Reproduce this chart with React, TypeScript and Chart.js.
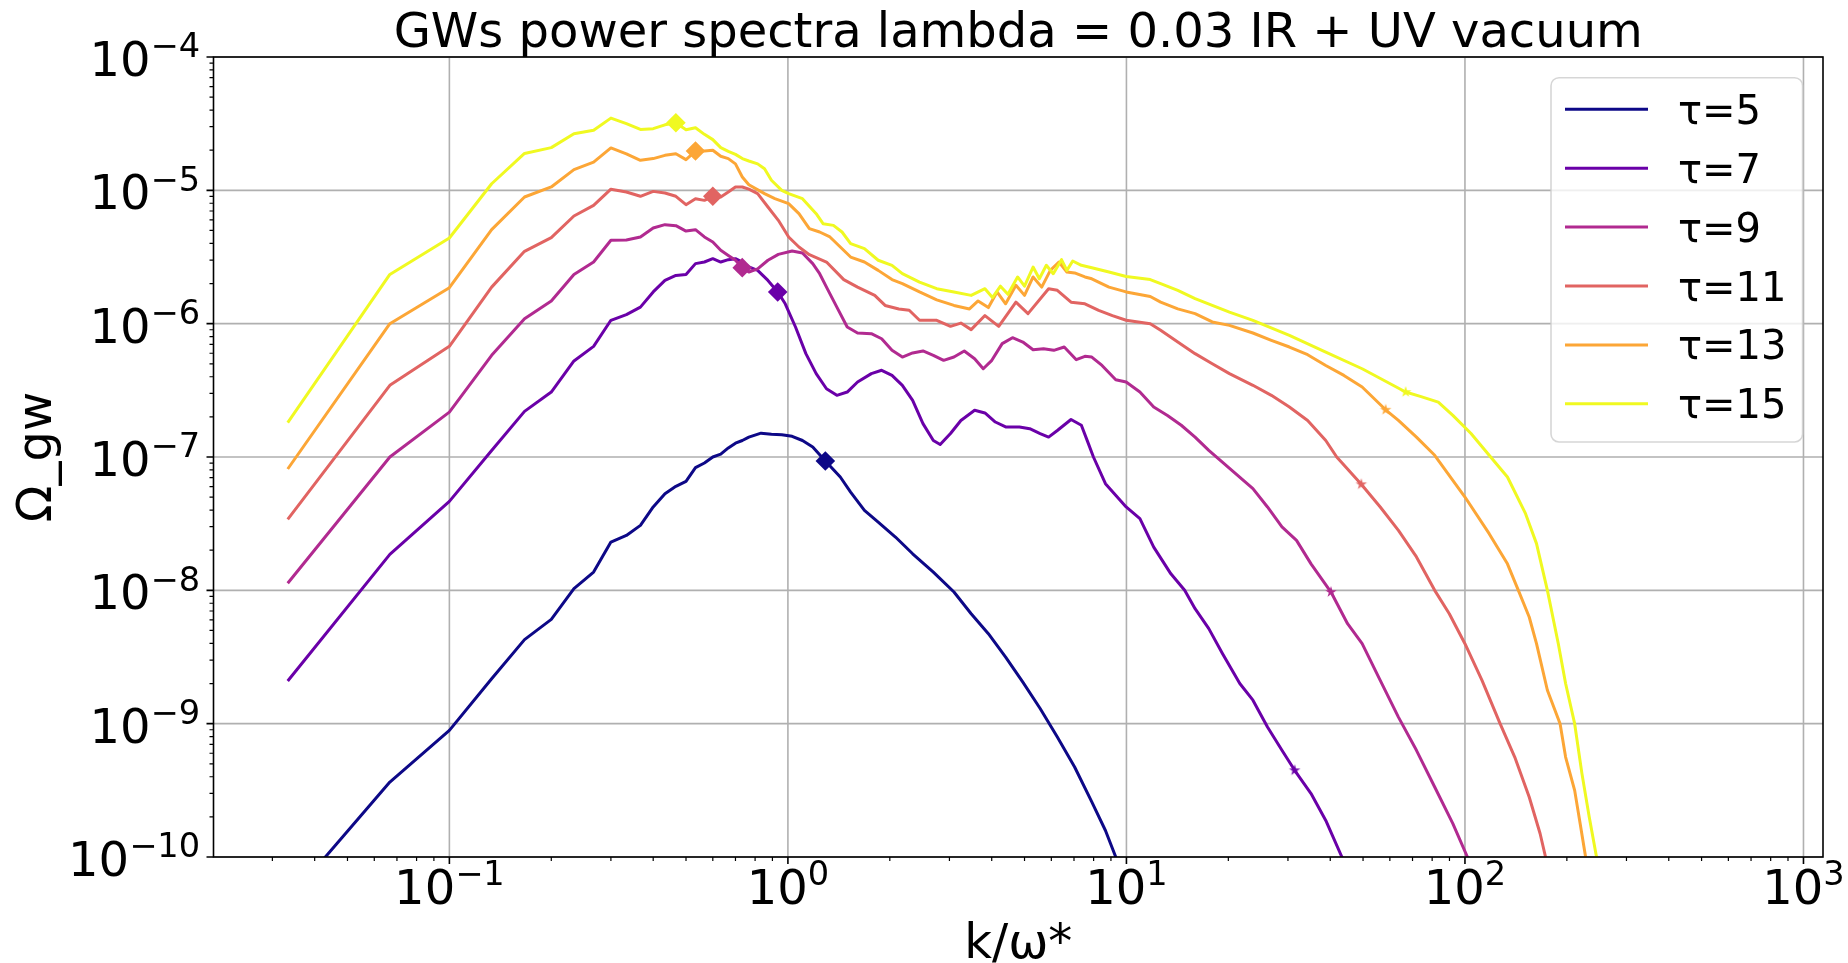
import React, { useEffect, useRef } from 'react';
import { Chart, registerables } from 'chart.js';

Chart.register(...registerables);

// ---------------- text ----------------
const TITLE = 'GWs power spectra lambda = 0.03 IR + UV vacuum';
const X_TITLE = 'k/ω*';
const Y_TITLE = 'Ω_gw';

// ---------------- series meta ----------------
const TAUS = [5, 7, 9, 11, 13, 15];
const COLORS = ['#0d0887', '#6a00a8', '#b12a90', '#e16462', '#fca636', '#f0f921'];

// ---------------- axes ----------------
const X_MIN = 0.0201;
const X_MAX = 1142;
const Y_MIN = 1e-10;
const Y_MAX = 1e-4;
const X_TICK_EXPONENTS = [-1, 0, 1, 2, 3];
const Y_TICK_EXPONENTS = [-10, -9, -8, -7, -6, -5, -4];

// ---------------- data ----------------
const k5 = [0.0333, 0.0667, 0.1, 0.1333, 0.1667, 0.2, 0.2333, 0.2667, 0.3, 0.3333, 0.3667, 0.4, 0.4333, 0.4667, 0.5, 0.5333, 0.5667, 0.6, 0.6333, 0.6667, 0.7, 0.7333, 0.7667,
  0.833, 0.894, 0.959, 1.029, 1.104, 1.184, 1.29, 1.428, 1.532, 1.683, 1.848, 2.078, 2.336, 2.689, 3.094, 3.478, 3.91, 4.397, 4.943, 5.56, 6.25, 7.03, 7.9, 8.67, 9.3, 10];
const omega5 = [4.7e-11, 3.65e-10, 8.91e-10, 2.17e-9, 4.27e-9, 6.06e-9, 1.03e-8, 1.37e-8, 2.30e-8, 2.58e-8, 3.07e-8, 4.22e-8, 5.31e-8, 6.03e-8, 6.57e-8, 8.32e-8, 9.02e-8, 1.0e-7, 1.05e-7, 1.17e-7, 1.27e-7, 1.33e-7, 1.41e-7,
  1.51e-7, 1.48e-7, 1.47e-7, 1.43e-7, 1.33e-7, 1.19e-7, 9.33e-8, 7.08e-8, 5.46e-8, 3.98e-8, 3.25e-8, 2.51e-8, 1.88e-8, 1.37e-8, 9.71e-9, 6.68e-9, 4.73e-9, 3.16e-9, 2.05e-9, 1.30e-9, 7.94e-10, 4.73e-10, 2.59e-10, 1.58e-10, 1.0e-10, 6.3e-11];

const k7 = [0.0333, 0.0667, 0.1, 0.1333, 0.1667, 0.2, 0.2333, 0.2667, 0.3, 0.3333, 0.3667, 0.4, 0.4333, 0.4667, 0.5, 0.5333, 0.5667, 0.6, 0.6333, 0.6667, 0.7, 0.7333, 0.7667,
  0.814, 0.873, 0.933, 0.982, 1.053, 1.13, 1.212, 1.3, 1.395, 1.497, 1.606, 1.764, 1.892, 2.03, 2.178, 2.336, 2.506, 2.689, 2.817, 3.022,
  3.243, 3.561, 3.82, 4.1, 4.397, 4.83, 5.18, 5.56, 5.89, 6.25, 6.86, 7.36, 7.72, 7.99, 8.67, 9.98, 10.96, 12.04, 13.53, 14.86,
  15.95, 17.51, 19.23, 21.62, 23.64, 26.1, 28.8, 31.4, 35.1, 38.8, 43.3, 50];
const omega7 = [2.09e-9, 1.86e-8, 4.65e-8, 1.12e-7, 2.20e-7, 3.07e-7, 5.25e-7, 6.76e-7, 1.06e-6, 1.17e-6, 1.33e-6, 1.73e-6, 2.11e-6, 2.30e-6, 2.34e-6, 2.82e-6, 2.90e-6, 3.07e-6, 2.90e-6, 3.02e-6, 3.07e-6, 2.90e-6, 2.66e-6,
  2.51e-6, 2.11e-6, 1.73e-6, 1.41e-6, 9.44e-7, 5.96e-7, 4.22e-7, 3.25e-7, 2.90e-7, 3.07e-7, 3.65e-7, 4.22e-7, 4.47e-7, 4.09e-7, 3.45e-7, 2.66e-7, 1.78e-7, 1.33e-7, 1.24e-7, 1.50e-7,
  1.88e-7, 2.24e-7, 2.14e-7, 1.83e-7, 1.68e-7, 1.68e-7, 1.63e-7, 1.50e-7, 1.41e-7, 1.58e-7, 1.91e-7, 1.73e-7, 1.26e-7, 1.0e-7, 6.31e-8, 4.22e-8, 3.45e-8, 2.11e-8, 1.33e-8, 1.0e-8,
  7.28e-9, 5.16e-9, 3.35e-9, 2.0e-9, 1.50e-9, 9.44e-10, 6.31e-10, 4.47e-10, 2.99e-10, 1.88e-10, 1.0e-10, 6.3e-11];

const k9 = [0.0333, 0.0667, 0.1, 0.1333, 0.1667, 0.2, 0.2333, 0.2667, 0.3, 0.3333, 0.3667, 0.4, 0.4333, 0.4667, 0.5, 0.5333, 0.5667, 0.6, 0.6333, 0.6667, 0.7, 0.7333, 0.7667,
  0.814, 0.873, 0.937, 1.029, 1.104, 1.184, 1.241, 1.3, 1.395, 1.497, 1.606, 1.764, 1.892, 2.03, 2.178, 2.336, 2.506, 2.689, 2.884, 3.094,
  3.319, 3.561, 3.776, 4.003, 4.295, 4.607, 4.943, 5.3, 5.69, 6.1, 6.55, 7.11, 7.54, 7.9, 8.47, 9.3, 9.98, 10.96, 12.04, 13.22,
  14.52, 15.95, 17.51, 23.64, 26.1, 28.8, 31.8, 35.1, 40.2, 45, 49.7, 56.2, 63.6, 71.9, 81.4, 92.1, 101.7, 115];
const omega9 = [1.13e-8, 1.0e-7, 2.17e-7, 5.79e-7, 1.09e-6, 1.48e-6, 2.34e-6, 2.90e-6, 4.22e-6, 4.24e-6, 4.47e-6, 5.22e-6, 5.53e-6, 5.43e-6, 4.95e-6, 5.07e-6, 4.47e-6, 4.10e-6, 3.55e-6, 3.25e-6, 2.99e-6, 2.63e-6, 2.44e-6,
  2.58e-6, 2.99e-6, 3.31e-6, 3.51e-6, 3.39e-6, 2.82e-6, 2.37e-6, 1.88e-6, 1.33e-6, 9.44e-7, 8.51e-7, 8.41e-7, 7.71e-7, 6.31e-7, 5.62e-7, 6.03e-7, 6.24e-7, 5.79e-7, 5.31e-7, 5.62e-7,
  6.24e-7, 5.46e-7, 4.59e-7, 5.31e-7, 7.08e-7, 7.85e-7, 7.28e-7, 6.38e-7, 6.49e-7, 6.31e-7, 6.68e-7, 5.37e-7, 5.69e-7, 5.62e-7, 4.86e-7, 3.80e-7, 3.65e-7, 3.07e-7, 2.37e-7, 2.05e-7,
  1.73e-7, 1.41e-7, 1.12e-7, 5.79e-8, 4.22e-8, 2.99e-8, 2.37e-8, 1.58e-8, 9.71e-9, 5.62e-9, 3.98e-9, 2.11e-9, 1.12e-9, 6.31e-10, 3.35e-10, 1.78e-10, 1.0e-10, 4.5e-11];

const k11 = [0.0333, 0.0667, 0.1, 0.1333, 0.1667, 0.2, 0.2333, 0.2667, 0.3, 0.3333, 0.3667, 0.4, 0.4333, 0.4667, 0.5, 0.5333, 0.5667, 0.6, 0.6333, 0.6667, 0.7, 0.7333, 0.7667,
  0.814, 0.873, 0.937, 1.005, 1.078, 1.157, 1.3, 1.462, 1.606, 1.805, 1.937, 2.127, 2.282, 2.448, 2.752, 3.022, 3.243, 3.478, 3.82, 4.195,
  4.716, 5.12, 5.89, 6.25, 6.86, 7.54, 8.28, 9.09, 9.98, 11.76, 12.62, 14.18, 15.95, 17.93, 20.15, 23.64, 26.8, 30.3, 34.3, 38.8,
  41.8, 49.4, 56.2, 63.6, 71.9, 81.4, 89.9, 100, 112.3, 127, 140.3, 154.8, 166.7, 173, 185];
const omega11 = [3.41e-8, 3.45e-7, 6.76e-7, 1.88e-6, 3.49e-6, 4.42e-6, 6.42e-6, 7.71e-6, 1.02e-5, 9.71e-6, 9.02e-6, 9.82e-6, 9.55e-6, 9.02e-6, 7.80e-6, 8.66e-6, 8.41e-6, 9.02e-6, 8.91e-6, 9.71e-6, 1.06e-5, 1.06e-5, 1.02e-5,
  9.44e-6, 7.50e-6, 5.96e-6, 4.47e-6, 3.76e-6, 3.29e-6, 2.90e-6, 2.14e-6, 1.88e-6, 1.63e-6, 1.37e-6, 1.29e-6, 1.26e-6, 1.06e-6, 1.06e-6, 9.55e-7, 1.01e-6, 9.02e-7, 1.15e-6, 9.55e-7,
  1.45e-6, 1.19e-6, 1.83e-6, 1.78e-6, 1.45e-6, 1.41e-6, 1.26e-6, 1.15e-6, 1.06e-6, 1.0e-6, 8.91e-7, 7.28e-7, 5.96e-7, 5.01e-7, 4.22e-7, 3.45e-7, 2.90e-7, 2.37e-7, 1.88e-7, 1.33e-7,
  1.0e-7, 6.24e-8, 4.22e-8, 2.82e-8, 1.78e-8, 1.0e-8, 6.68e-9, 3.98e-9, 2.11e-9, 1.0e-9, 5.62e-10, 2.82e-10, 1.50e-10, 1.0e-10, 4.0e-11];

const k13 = [0.0333, 0.0667, 0.1, 0.1333, 0.1667, 0.2, 0.2333, 0.2667, 0.3, 0.3333, 0.3667, 0.4, 0.4333, 0.4667, 0.5, 0.5333, 0.5667, 0.6, 0.6333, 0.6667, 0.7, 0.7333, 0.7667,
  0.853, 0.915, 1.005, 1.078, 1.157, 1.241, 1.331, 1.428, 1.532, 1.683, 1.848, 2.03, 2.178, 2.448, 2.752, 3.094, 3.438,
  3.646, 3.91, 4.147, 4.397, 4.716, 5.0, 5.3, 5.62, 5.96, 6.32, 6.67, 7.03, 7.54, 7.9, 8.88, 9.98, 11.76, 12.62, 14.18, 15.95, 17.93, 20.15, 23.64,
  26.8, 30.3, 34.3, 38.8, 43.9, 49.7, 58.3, 63.6, 71.9, 81.4, 100, 117.9, 133.5, 143.8, 154.8, 162.7, 175.2, 191, 198.3, 210.9, 218.9, 227.2, 245];
const omega13 = [8.13e-8, 1.0e-6, 1.86e-6, 5.07e-6, 8.91e-6, 1.06e-5, 1.43e-5, 1.63e-5, 2.08e-5, 1.88e-5, 1.68e-5, 1.73e-5, 1.83e-5, 1.88e-5, 1.70e-5, 1.97e-5, 1.97e-5, 2.0e-5, 1.80e-5, 1.73e-5, 1.58e-5, 1.26e-5, 1.10e-5,
  9.44e-6, 8.66e-6, 7.94e-6, 6.68e-6, 5.16e-6, 4.87e-6, 4.47e-6, 3.76e-6, 3.16e-6, 2.90e-6, 2.51e-6, 2.14e-6, 2.0e-6, 1.73e-6, 1.51e-6, 1.37e-6, 1.29e-6,
  1.48e-6, 1.32e-6, 1.73e-6, 1.41e-6, 1.94e-6, 1.63e-6, 2.24e-6, 1.88e-6, 2.51e-6, 2.90e-6, 2.44e-6, 2.40e-6, 2.24e-6, 2.17e-6, 1.88e-6, 1.73e-6, 1.60e-6, 1.45e-6, 1.29e-6, 1.19e-6, 1.03e-6, 9.71e-7, 8.51e-7,
  7.50e-7, 6.68e-7, 5.85e-7, 4.86e-7, 4.09e-7, 3.35e-7, 2.26e-7, 1.88e-7, 1.41e-7, 1.03e-7, 5.01e-8, 2.66e-8, 1.58e-8, 1.0e-8, 6.31e-9, 3.98e-9, 1.78e-9, 1.0e-9, 5.62e-10, 3.16e-10, 1.78e-10, 1.0e-10, 2.5e-11];

const k15 = [0.0333, 0.0667, 0.1, 0.1333, 0.1667, 0.2, 0.2333, 0.2667, 0.3, 0.3333, 0.3667, 0.4, 0.4333, 0.4667, 0.5, 0.5333, 0.5667, 0.6, 0.6333, 0.6667, 0.7, 0.7333, 0.7667,
  0.814, 0.853, 0.894, 0.959, 1.005, 1.104, 1.212, 1.27, 1.363, 1.445, 1.532, 1.683, 1.848, 2.03, 2.178, 2.448, 2.752, 3.094, 3.478,
  3.82, 4.02, 4.245, 4.467, 4.77, 5.0, 5.3, 5.53, 5.8, 6.08, 6.43, 6.67, 6.94,
  7.36, 7.9, 8.88, 9.98, 11.76, 12.62, 14.18, 15.95, 17.93, 20.15, 23.64,
  30.3, 38.8, 49.7, 66.8, 73.8, 83.4, 92.1, 104.2, 117.9,
  133.5, 151, 162.7, 175.2, 188.7, 198.3, 210.9, 221.6, 232.8, 244.7, 265];
const omega15 = [1.81e-7, 2.34e-6, 4.39e-6, 1.12e-5, 1.89e-5, 2.09e-5, 2.66e-5, 2.82e-5, 3.48e-5, 3.16e-5, 2.86e-5, 2.90e-5, 3.10e-5, 3.21e-5, 2.85e-5, 2.95e-5, 2.63e-5, 2.40e-5, 2.09e-5, 1.96e-5, 1.86e-5, 1.73e-5, 1.66e-5,
  1.58e-5, 1.45e-5, 1.19e-5, 1.0e-5, 9.44e-6, 8.66e-6, 6.68e-6, 5.62e-6, 5.46e-6, 4.87e-6, 3.98e-6, 3.65e-6, 2.99e-6, 2.74e-6, 2.37e-6, 2.05e-6, 1.83e-6, 1.73e-6, 1.63e-6,
  1.83e-6, 1.57e-6, 1.91e-6, 1.66e-6, 2.24e-6, 1.91e-6, 2.66e-6, 2.17e-6, 2.74e-6, 2.37e-6, 3.02e-6, 2.51e-6, 2.95e-6,
  2.74e-6, 2.63e-6, 2.44e-6, 2.26e-6, 2.14e-6, 2.0e-6, 1.78e-6, 1.54e-6, 1.37e-6, 1.22e-6, 1.06e-6,
  8.17e-7, 6.12e-7, 4.59e-7, 3.07e-7, 2.85e-7, 2.58e-7, 2.05e-7, 1.50e-7, 1.03e-7,
  7.08e-8, 3.76e-8, 2.24e-8, 1.0e-8, 3.98e-9, 2.0e-9, 1.0e-9, 4.22e-10, 2.0e-10, 1.0e-10, 2.0e-11];

// marker positions (diamond per series, star per series except τ=5)
const DIAMOND_K = [1.29, 0.933, 0.733, 0.6, 0.5333, 0.4667];
const DIAMOND_OMEGA = [9.33e-8, 1.73e-6, 2.63e-6, 9.02e-6, 1.97e-5, 3.21e-5];
const STAR_TAUS = [7, 9, 11, 13, 15];
const STAR_K = [31.4, 40.2, 49.4, 58.3, 66.8];
const STAR_OMEGA = [4.47e-10, 9.71e-9, 6.24e-8, 2.26e-7, 3.07e-7];

const SERIES_K = [k5, k7, k9, k11, k13, k15];
const SERIES_OMEGA = [omega5, omega7, omega9, omega11, omega13, omega15];

// ---------------- drawing helpers ----------------
const FONT = '"DejaVu Sans", "Noto Sans", sans-serif';

function makeStar(color: string, r: number): HTMLCanvasElement {
  const size = Math.ceil(r * 2 + 2);
  const c = document.createElement('canvas');
  c.width = size;
  c.height = size;
  const g = c.getContext('2d') as CanvasRenderingContext2D;
  g.translate(size / 2, size / 2);
  g.beginPath();
  for (let i = 0; i < 10; i++) {
    const rr = i % 2 === 0 ? r : r * 0.382;
    const ang = -Math.PI / 2 + (i * Math.PI) / 5;
    if (i === 0) g.moveTo(rr * Math.cos(ang), rr * Math.sin(ang));
    else g.lineTo(rr * Math.cos(ang), rr * Math.sin(ang));
  }
  g.closePath();
  g.fillStyle = color;
  g.fill();
  return c;
}

function powLabel(ctx: CanvasRenderingContext2D, exp: number, x: number, baseline: number, align: 'right' | 'center') {
  const base = '10';
  const sup = exp < 0 ? '\u2212' + String(-exp) : String(exp);
  ctx.font = `48px ${FONT}`;
  const wb = ctx.measureText(base).width;
  ctx.font = `33.6px ${FONT}`;
  const ws = ctx.measureText(sup).width;
  const total = wb + ws;
  const left = align === 'right' ? x - total : x - total / 2;
  ctx.textAlign = 'left';
  ctx.textBaseline = 'alphabetic';
  ctx.font = `48px ${FONT}`;
  ctx.fillText(base, left, baseline);
  ctx.font = `33.6px ${FONT}`;
  ctx.fillText(sup, left + wb, baseline - 18.7);
}

function minorValues(min: number, max: number): number[] {
  const out: number[] = [];
  for (let e = Math.floor(Math.log10(min)); e <= Math.ceil(Math.log10(max)); e++) {
    for (let m = 2; m <= 9; m++) {
      const v = m * Math.pow(10, e);
      if (v >= min && v <= max) out.push(v);
    }
  }
  return out;
}

const decorPlugin = {
  id: 'mplDecor',
  beforeDatasetsDraw(chart: any) {
    const { ctx, chartArea: a } = chart;
    const xs = chart.scales.x;
    const ys = chart.scales.y;
    ctx.save();
    ctx.strokeStyle = '#b0b0b0';
    ctx.lineWidth = 1.6;
    ctx.beginPath();
    X_TICK_EXPONENTS.forEach((e) => {
      const x = xs.getPixelForValue(Math.pow(10, e));
      if (x >= a.left - 1 && x <= a.right + 1) {
        ctx.moveTo(x, a.top);
        ctx.lineTo(x, a.bottom);
      }
    });
    Y_TICK_EXPONENTS.forEach((e) => {
      const y = ys.getPixelForValue(Math.pow(10, e));
      ctx.moveTo(a.left, y);
      ctx.lineTo(a.right, y);
    });
    ctx.stroke();
    ctx.restore();
  },
  afterDatasetsDraw(chart: any) {
    const { ctx, chartArea: a } = chart;
    const xs = chart.scales.x;
    const ys = chart.scales.y;
    ctx.save();

    // spines
    ctx.strokeStyle = '#000';
    ctx.lineWidth = 1.6;
    ctx.strokeRect(a.left, a.top, a.right - a.left, a.bottom - a.top);

    // ticks
    ctx.beginPath();
    ctx.lineWidth = 1.6;
    X_TICK_EXPONENTS.forEach((e) => {
      const x = xs.getPixelForValue(Math.pow(10, e));
      ctx.moveTo(x, a.bottom);
      ctx.lineTo(x, a.bottom + 7);
    });
    Y_TICK_EXPONENTS.forEach((e) => {
      const y = ys.getPixelForValue(Math.pow(10, e));
      ctx.moveTo(a.left, y);
      ctx.lineTo(a.left - 7, y);
    });
    ctx.stroke();
    ctx.beginPath();
    ctx.lineWidth = 1.2;
    minorValues(X_MIN, X_MAX).forEach((v) => {
      const x = xs.getPixelForValue(v);
      ctx.moveTo(x, a.bottom);
      ctx.lineTo(x, a.bottom + 4);
    });
    minorValues(Y_MIN, Y_MAX).forEach((v) => {
      const y = ys.getPixelForValue(v);
      ctx.moveTo(a.left, y);
      ctx.lineTo(a.left - 4, y);
    });
    ctx.stroke();

    // tick labels
    ctx.fillStyle = '#000';
    Y_TICK_EXPONENTS.forEach((e) => {
      const y = ys.getPixelForValue(Math.pow(10, e));
      powLabel(ctx, e, a.left - 13.5, y + 19, 'right');
    });
    X_TICK_EXPONENTS.forEach((e) => {
      const x = xs.getPixelForValue(Math.pow(10, e));
      powLabel(ctx, e, x, a.bottom + 47, 'center');
    });

    // title and axis titles
    const cx = (a.left + a.right) / 2;
    ctx.font = `48px ${FONT}`;
    ctx.textAlign = 'center';
    ctx.textBaseline = 'alphabetic';
    ctx.fillText(TITLE, cx, a.top - 10);
    ctx.fillText(X_TITLE, cx, a.bottom + 101);
    ctx.save();
    ctx.translate(a.left - 162.5, (a.top + a.bottom) / 2);
    ctx.rotate(-Math.PI / 2);
    ctx.fillText(Y_TITLE, 0, 0);
    ctx.restore();

    // legend
    const boxW = 251.6;
    const boxH = 364.3;
    const bx = a.right - 20.4 - boxW;
    const by = a.top + 20.7;
    const r = 8;
    ctx.beginPath();
    ctx.moveTo(bx + r, by);
    ctx.lineTo(bx + boxW - r, by);
    ctx.arcTo(bx + boxW, by, bx + boxW, by + r, r);
    ctx.lineTo(bx + boxW, by + boxH - r);
    ctx.arcTo(bx + boxW, by + boxH, bx + boxW - r, by + boxH, r);
    ctx.lineTo(bx + r, by + boxH);
    ctx.arcTo(bx, by + boxH, bx, by + boxH - r, r);
    ctx.lineTo(bx, by + r);
    ctx.arcTo(bx, by, bx + r, by, r);
    ctx.closePath();
    ctx.fillStyle = 'rgba(255,255,255,0.8)';
    ctx.fill();
    ctx.strokeStyle = 'rgba(204,204,204,0.8)';
    ctx.lineWidth = 1.6;
    ctx.stroke();

    ctx.font = `40px ${FONT}`;
    ctx.textAlign = 'left';
    ctx.textBaseline = 'alphabetic';
    TAUS.forEach((tau, i) => {
      const ly = by + 31.6 + i * 58.9;
      ctx.beginPath();
      ctx.strokeStyle = COLORS[i];
      ctx.lineWidth = 3;
      ctx.moveTo(bx + 14, ly);
      ctx.lineTo(bx + 97, ly);
      ctx.stroke();
      ctx.fillStyle = '#000';
      ctx.fillText(`τ=${tau}`, bx + 127, ly + 14.5);
    });

    ctx.restore();
  },
};

export default function App() {
  const ref = useRef<HTMLCanvasElement | null>(null);

  useEffect(() => {
    const canvas = ref.current;
    if (!canvas) return;

    const datasets: any[] = [];
    TAUS.forEach((tau, i) => {
      const ks = SERIES_K[i];
      const om = SERIES_OMEGA[i];
      datasets.push({
        label: `τ=${tau}`,
        data: ks.map((k, j) => ({ x: k, y: om[j] })),
        showLine: true,
        borderColor: COLORS[i],
        backgroundColor: COLORS[i],
        borderWidth: 3,
        borderJoinStyle: 'round',
        pointRadius: 0,
        pointHoverRadius: 0,
        tension: 0,
        fill: false,
        clip: 0,
        order: (5 - i) * 3 + 2,
      });
      datasets.push({
        label: `τ=${tau} marker`,
        data: [{ x: DIAMOND_K[i], y: DIAMOND_OMEGA[i] }],
        showLine: false,
        pointStyle: 'rectRot',
        pointRadius: 9.8,
        pointHoverRadius: 9.8,
        pointBackgroundColor: COLORS[i],
        pointBorderColor: COLORS[i],
        pointBorderWidth: 0,
        clip: 0,
        order: (5 - i) * 3 + 1,
      });
      const si = STAR_TAUS.indexOf(tau);
      if (si >= 0) {
        const star = makeStar(COLORS[i], 6);
        datasets.push({
          label: `τ=${tau} star`,
          data: [{ x: STAR_K[si], y: STAR_OMEGA[si] }],
          showLine: false,
          pointStyle: star,
          pointRadius: 6,
          pointHoverRadius: 6,
          clip: 0,
          order: (5 - i) * 3,
        });
      }
    });

    const chart = new Chart(canvas, {
      type: 'scatter',
      data: { datasets },
      options: {
        animation: false,
        responsive: false,
        devicePixelRatio: 1,
        events: [],
        layout: { padding: { left: 213.5, top: 57, right: 25, bottom: 106 } },
        scales: {
          x: { type: 'logarithmic', min: X_MIN, max: X_MAX, display: false },
          y: { type: 'logarithmic', min: Y_MIN, max: Y_MAX, display: false },
        },
        plugins: {
          legend: { display: false },
          title: { display: false },
          tooltip: { enabled: false },
        },
      },
      plugins: [decorPlugin],
    } as any);

    return () => chart.destroy();
  }, []);

  return (
    <div style={{ position: 'fixed', left: 0, top: 0, width: 1848, height: 963, background: '#ffffff' }}>
      <canvas ref={ref} width={1848} height={963} style={{ display: 'block', width: 1848, height: 963 }} />
    </div>
  );
}
